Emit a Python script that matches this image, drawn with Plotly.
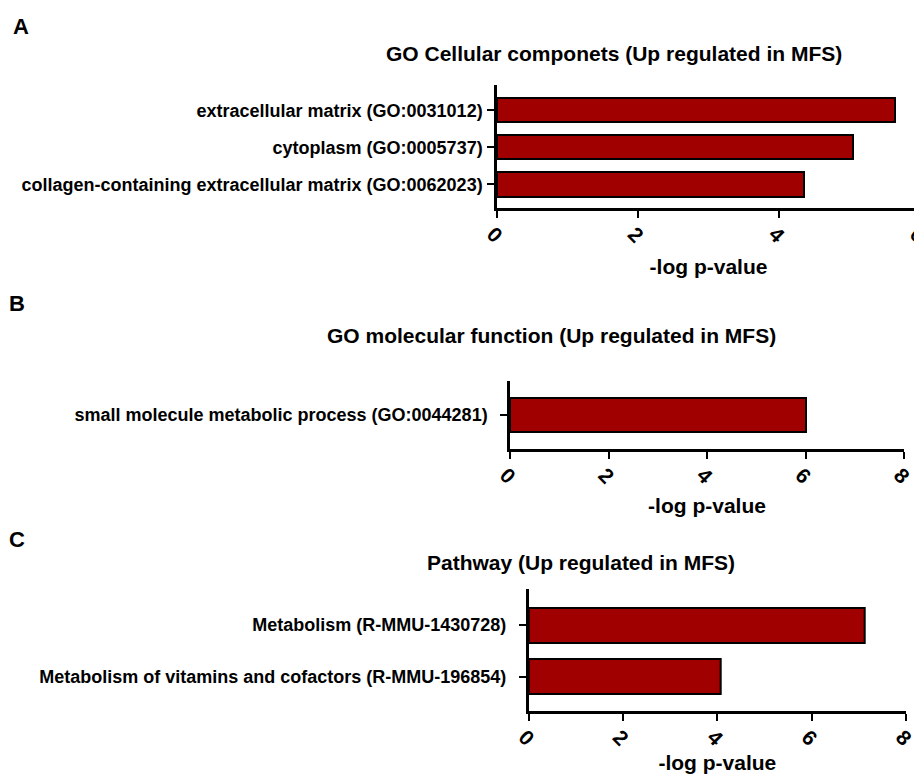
import plotly.graph_objects as go

# ---- data ----
cc_terms = ["extracellular matrix (GO:0031012)",
            "cytoplasm (GO:0005737)",
            "collagen-containing extracellular matrix (GO:0062023)"]
cc_values = [5.65, 5.05, 4.36]

mf_terms = ["small molecule metabolic process (GO:0044281)"]
mf_values = [6.0]

pw_terms = ["Metabolism (R-MMU-1430728)",
            "Metabolism of vitamins and cofactors (R-MMU-196854)"]
pw_values = [7.12, 4.07]

titles = ["GO Cellular componets (Up regulated in MFS)",
          "GO molecular function (Up regulated in MFS)",
          "Pathway (Up regulated in MFS)"]
x_title = "-log p-value"
panel_letters = ["A", "B", "C"]

OFF = 8                      # page body margin
W, H = 922 - OFF, 774 - OFF  # figure size so it fits the window
FONT = "Liberation Sans, Arial, sans-serif"
BAR = "#a00000"

def px_x(p):
    return (p - OFF) / W

def px_y(p):
    return 1 - (p - OFF) / H

fig = go.Figure()

panels = [
    # terms, values, x range, x px domain, y px domain, y range, bar width, label standoff, ticks, title standoff
    (cc_terms, cc_values, [0, 6], (497, 920), (85, 208), [2.64, -0.68], 0.66, 1, [0, 2, 4, 6], 14),
    (mf_terms, mf_values, [0, 8], (510, 904), (381, 449), [1.0, -1.0], 1.0, 9, [0, 2, 4, 6, 8], 12),
    (pw_terms, pw_values, [0, 8], (528.7, 906), (589, 711), [1.67, -0.70], 0.68, 9, [0, 2, 4, 6, 8], 11),
]

layout_axes = {}
for i, (terms, vals, xr, xd, yd, yr, bw, so, tv, tso) in enumerate(panels, start=1):
    xa = "x" if i == 1 else f"x{i}"
    ya = "y" if i == 1 else f"y{i}"
    fig.add_trace(go.Bar(
        x=vals, y=terms, orientation="h", width=bw,
        marker=dict(color=BAR, line=dict(color="black", width=2)),
        xaxis=xa, yaxis=ya, showlegend=False, hoverinfo="x+y"))
    xkey = "xaxis" if i == 1 else f"xaxis{i}"
    ykey = "yaxis" if i == 1 else f"yaxis{i}"
    layout_axes[xkey] = dict(
        domain=[px_x(xd[0]), min(px_x(xd[1]), 1.0)], range=xr, anchor=ya, automargin=False,
        showgrid=False, zeroline=False, showline=True, linecolor="black", linewidth=2.5,
        ticks="outside", ticklen=7, tickwidth=2, tickcolor="black",
        tickvals=tv, tickangle=45, ticklabelshift=-4, ticklabelstandoff=-4,
        ticklabeloverflow="allow",
        tickfont=dict(family=FONT, size=21, color="black", weight="bold"),
        title=dict(text=x_title, font=dict(family=FONT, size=21, color="black", weight="bold"),
                   standoff=tso),
        fixedrange=True)
    layout_axes[ykey] = dict(
        domain=[px_y(yd[1]), px_y(yd[0])], range=yr, anchor=xa, type="category",
        automargin=False,
        showgrid=False, zeroline=False, showline=True, linecolor="black", linewidth=2.5,
        ticks="outside", ticklen=7, tickwidth=2, tickcolor="black",
        ticklabelstandoff=so,
        tickfont=dict(family=FONT, size=18, color="black", weight="bold"),
        fixedrange=True)

annotations = []
title_pos = [(614, 53), (551, 336), (581, 562)]
for t, (tx, ty) in zip(titles, title_pos):
    annotations.append(dict(text=t, x=px_x(tx), y=px_y(ty), xref="paper", yref="paper",
                            xanchor="center", yanchor="middle", showarrow=False,
                            font=dict(family=FONT, size=21, color="black", weight="bold")))
letter_pos = [(21, 26), (17, 304), (17, 539)]
for t, (tx, ty) in zip(panel_letters, letter_pos):
    annotations.append(dict(text=t, x=px_x(tx), y=px_y(ty), xref="paper", yref="paper",
                            xanchor="center", yanchor="middle", showarrow=False,
                            font=dict(family=FONT, size=22, color="black", weight="bold")))

fig.update_layout(width=W, height=H, margin=dict(l=0, r=0, t=0, b=0),
                  paper_bgcolor="white", plot_bgcolor="white",
                  bargap=0, annotations=annotations, **layout_axes)

fig.write_html("out.html")
